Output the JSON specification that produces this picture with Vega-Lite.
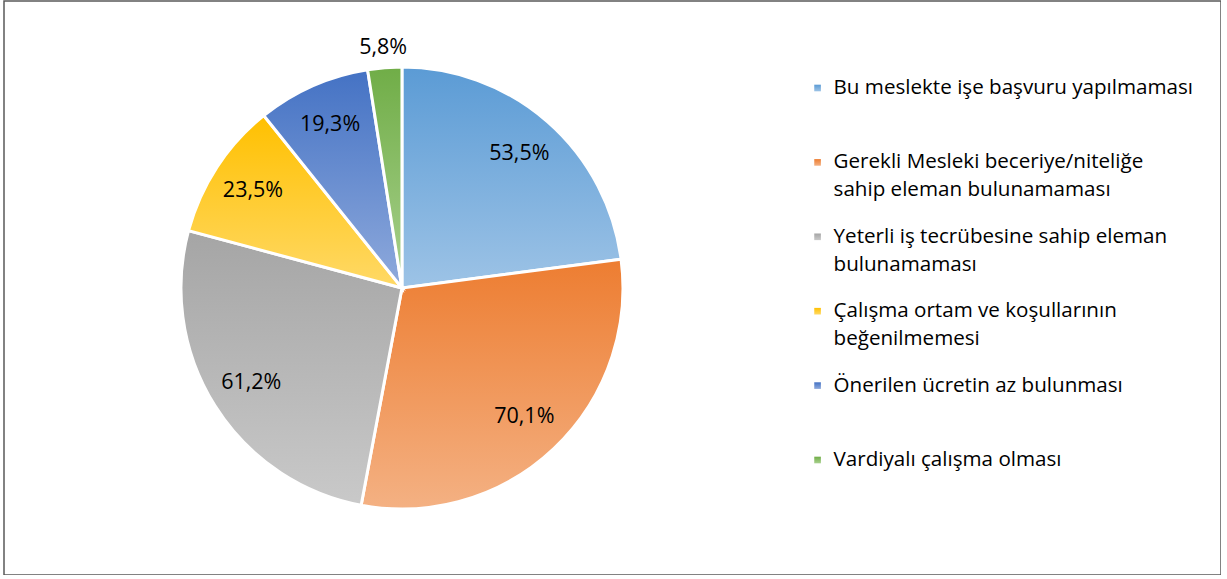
{
  "$schema": "https://vega.github.io/schema/vega-lite/v6.json",
  "width": 1217,
  "height": 574,
  "autosize": {"type": "none"},
  "padding": {"left": 4, "top": 1, "right": 0, "bottom": 0},
  "background": "white",
  "config": {
    "view": {"stroke": "#595959", "strokeWidth": 1.5},
    "font": "Open Sans",
    "locale": {"number": {"decimal": ",", "thousands": ".", "grouping": [3], "currency": ["", " TL"]}}
  },
  "data": {
    "values": [
      {"rank": 1, "cat": "Bu meslekte işe başvuru yapılmaması", "label": "Bu meslekte işe başvuru yapılmaması", "value": 0.535},
      {"rank": 2, "cat": "Gerekli Mesleki beceriye/niteliğe sahip eleman bulunamaması", "label": "Gerekli Mesleki beceriye/niteliğe\nsahip eleman bulunamaması", "value": 0.701},
      {"rank": 3, "cat": "Yeterli iş tecrübesine sahip eleman bulunamaması", "label": "Yeterli iş tecrübesine sahip eleman\nbulunamaması", "value": 0.612},
      {"rank": 4, "cat": "Çalışma ortam ve koşullarının beğenilmemesi", "label": "Çalışma ortam ve koşullarının\nbeğenilmemesi", "value": 0.235},
      {"rank": 5, "cat": "Önerilen ücretin az bulunması", "label": "Önerilen ücretin az bulunması", "value": 0.193},
      {"rank": 6, "cat": "Vardiyalı çalışma olması", "label": "Vardiyalı çalışma olması", "value": 0.058}
    ]
  },
  "layer": [
    {
      "mark": {"type": "arc", "outerRadius": 221, "stroke": "white", "strokeWidth": 3},
      "encoding": {
        "theta": {"field": "value", "type": "quantitative", "stack": true},
        "order": {"field": "rank", "type": "quantitative"},
        "x": {"datum": 0.327, "type": "quantitative", "scale": {"domain": [0, 1]}, "axis": null},
        "fill": {
          "condition": [
            {"test": "datum.rank == 1", "value": {"gradient": "linear", "x1": 0, "y1": 0, "x2": 0, "y2": 1, "stops": [{"offset": 0, "color": "#5B9BD5"}, {"offset": 1, "color": "#9DC3E6"}]}},
            {"test": "datum.rank == 2", "value": {"gradient": "linear", "x1": 0, "y1": 0, "x2": 0, "y2": 1, "stops": [{"offset": 0, "color": "#ED7D31"}, {"offset": 1, "color": "#F4B183"}]}},
            {"test": "datum.rank == 3", "value": {"gradient": "linear", "x1": 0, "y1": 0, "x2": 0, "y2": 1, "stops": [{"offset": 0, "color": "#A5A5A5"}, {"offset": 1, "color": "#C9C9C9"}]}},
            {"test": "datum.rank == 4", "value": {"gradient": "linear", "x1": 0, "y1": 0, "x2": 0, "y2": 1, "stops": [{"offset": 0, "color": "#FFC000"}, {"offset": 1, "color": "#FFD966"}]}},
            {"test": "datum.rank == 5", "value": {"gradient": "linear", "x1": 0, "y1": 0, "x2": 0, "y2": 1, "stops": [{"offset": 0, "color": "#4472C4"}, {"offset": 1, "color": "#8FAADC"}]}}
          ],
          "value": {"gradient": "linear", "x1": 0, "y1": 0, "x2": 0, "y2": 1, "stops": [{"offset": 0, "color": "#70AD47"}, {"offset": 1, "color": "#A9D18E"}]}
        }
      }
    },
    {
      "mark": {"type": "text", "fontSize": 21.5, "fill": "#000000", "radius": 178},
      "encoding": {
        "theta": {"field": "value", "type": "quantitative", "stack": true},
        "order": {"field": "rank", "type": "quantitative"},
        "x": {"datum": 0.327, "type": "quantitative"},
        "fillOpacity": {"condition": {"test": "datum.value < 0.1", "value": 0}, "value": 1},
        "text": {"field": "value", "type": "quantitative", "format": ".1%"}
      }
    },
    {
      "mark": {"type": "text", "fontSize": 21.5, "fill": "#000000", "radius": 241},
      "encoding": {
        "theta": {"field": "value", "type": "quantitative", "stack": true},
        "order": {"field": "rank", "type": "quantitative"},
        "x": {"datum": 0.327, "type": "quantitative"},
        "fillOpacity": {"condition": {"test": "datum.value < 0.1", "value": 1}, "value": 0},
        "text": {"field": "value", "type": "quantitative", "format": ".1%"}
      }
    },
    {
      "mark": {"type": "point", "shape": "square", "size": 44, "strokeWidth": 0, "opacity": 1},
      "encoding": {
        "x": {"datum": 0.6685, "type": "quantitative"},
        "y": {"field": "cat", "type": "nominal", "sort": null, "scale": {"type": "point", "range": [87, 459], "padding": 0}, "axis": null},
        "fill": {
          "condition": [
            {"test": "datum.rank == 1", "value": {"gradient": "linear", "x1": 0, "y1": 0, "x2": 0, "y2": 1, "stops": [{"offset": 0, "color": "#5B9BD5"}, {"offset": 1, "color": "#9DC3E6"}]}},
            {"test": "datum.rank == 2", "value": {"gradient": "linear", "x1": 0, "y1": 0, "x2": 0, "y2": 1, "stops": [{"offset": 0, "color": "#ED7D31"}, {"offset": 1, "color": "#F4B183"}]}},
            {"test": "datum.rank == 3", "value": {"gradient": "linear", "x1": 0, "y1": 0, "x2": 0, "y2": 1, "stops": [{"offset": 0, "color": "#A5A5A5"}, {"offset": 1, "color": "#C9C9C9"}]}},
            {"test": "datum.rank == 4", "value": {"gradient": "linear", "x1": 0, "y1": 0, "x2": 0, "y2": 1, "stops": [{"offset": 0, "color": "#FFC000"}, {"offset": 1, "color": "#FFD966"}]}},
            {"test": "datum.rank == 5", "value": {"gradient": "linear", "x1": 0, "y1": 0, "x2": 0, "y2": 1, "stops": [{"offset": 0, "color": "#4472C4"}, {"offset": 1, "color": "#8FAADC"}]}}
          ],
          "value": {"gradient": "linear", "x1": 0, "y1": 0, "x2": 0, "y2": 1, "stops": [{"offset": 0, "color": "#70AD47"}, {"offset": 1, "color": "#A9D18E"}]}
        }
      }
    },
    {
      "mark": {"type": "text", "align": "left", "baseline": "middle", "dx": 16, "fontSize": 20.6, "lineHeight": 28, "lineBreak": "\n", "fill": "#000000"},
      "encoding": {
        "x": {"datum": 0.6685, "type": "quantitative"},
        "y": {"field": "cat", "type": "nominal", "sort": null},
        "text": {"field": "label", "type": "nominal"}
      }
    }
  ]
}
